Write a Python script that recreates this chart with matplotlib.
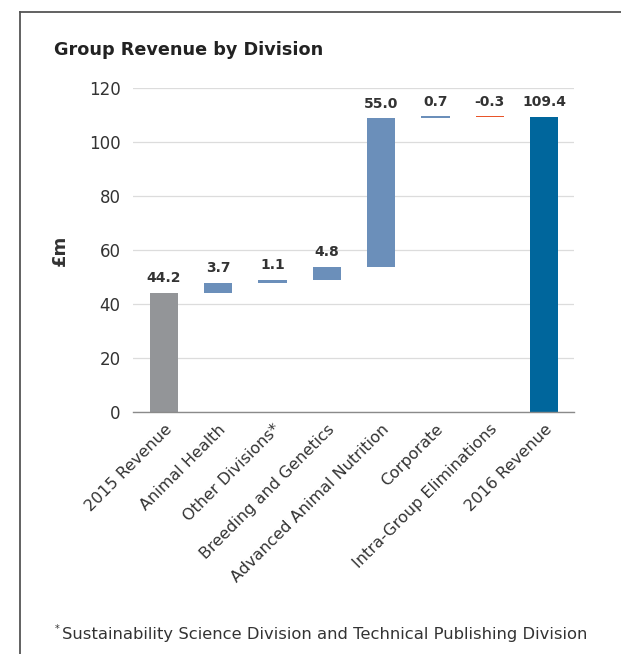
import numpy as np
import matplotlib
matplotlib.use("Agg")
import matplotlib.pyplot as plt
from matplotlib.lines import Line2D

plt.rcParams['font.family'] = ['DejaVu Sans']

categories = ["2015 Revenue", "Animal Health", "Other Divisions*", "Breeding and Genetics",
              "Advanced Animal Nutrition", "Corporate", "Intra-Group Eliminations", "2016 Revenue"]
values = [44.2, 3.7, 1.1, 4.8, 55.0, 0.7, -0.3, 109.4]
is_total = [True, False, False, False, False, False, False, True]
y_ticks = [0, 20, 40, 60, 80, 100, 120]

TEXT = "#333333"
GREY = "#939598"
STEEL = "#6b8fba"
NEG = "#e8552a"
NAVY = "#00669c"

W, H = 621, 654
fig = plt.figure(figsize=(W / 100, H / 100), dpi=100)
ax = fig.add_axes([133 / W, 1 - 412 / H, (574 - 133) / W, (412 - 88) / H])

x = np.arange(len(categories))
bottoms, heights, colors = [], [], []
running = 0.0
for i, (v, tot) in enumerate(zip(values, is_total)):
    if tot:
        bottoms.append(0.0)
        heights.append(v)
        colors.append(GREY if i == 0 else NAVY)
        running = v
    else:
        bottoms.append(running)
        heights.append(v)
        colors.append(STEEL if v >= 0 else NEG)
        running += v

ax.bar(x, heights, bottom=bottoms, width=0.52, color=colors, zorder=3)

for xi, b, h, v in zip(x, bottoms, heights, values):
    top = max(b, b + h)
    ax.annotate(f"{v:.1f}", (xi, top), xytext=(0, 5.5), textcoords="offset points",
                ha="center", va="bottom", fontsize=10, fontweight="bold", color=TEXT)

ax.set_ylim(0, 120)
ax.set_xlim(-0.571, 7.552)
ax.set_yticks(y_ticks)
ax.set_yticklabels([str(t) for t in y_ticks], fontsize=12, color=TEXT)
ax.set_xticks(x)
ax.set_xticklabels(categories, rotation=45, ha="right", rotation_mode="anchor",
                   fontsize=11.5, color=TEXT)
ax.tick_params(axis="both", length=0)
ax.tick_params(axis="y", pad=9)
ax.tick_params(axis="x", pad=7)
ax.grid(axis="y", color="#dcdcdc", linewidth=0.9, zorder=0)
for s in ["top", "right", "left"]:
    ax.spines[s].set_visible(False)
ax.spines["bottom"].set_color("#8a8a8a")
ax.spines["bottom"].set_linewidth(1.0)
ax.spines["bottom"].set_zorder(4)

ax.set_ylabel("£m", fontsize=13, fontweight="bold", color=TEXT, labelpad=14)

fig.text(54 / W, 1 - 50 / H, "Group Revenue by Division", fontsize=12.7, fontweight="bold",
         color="#222222", ha="left", va="center")

fig.text(55 / W, 1 - 629 / H, "*", fontsize=7, color=TEXT, ha="left", va="center")
fig.text(62 / W, 1 - 634 / H, "Sustainability Science Division and Technical Publishing Division",
         fontsize=11.75, color=TEXT, ha="left", va="center")

# outer frame: top and left rules
fig.add_artist(Line2D([20 / W, 1.0], [1 - 12 / H, 1 - 12 / H], color="#555555", linewidth=1.3))
fig.add_artist(Line2D([20 / W, 20 / W], [1 - 12 / H, 0.0], color="#555555", linewidth=1.3))

fig.savefig("out.png", dpi=100)
